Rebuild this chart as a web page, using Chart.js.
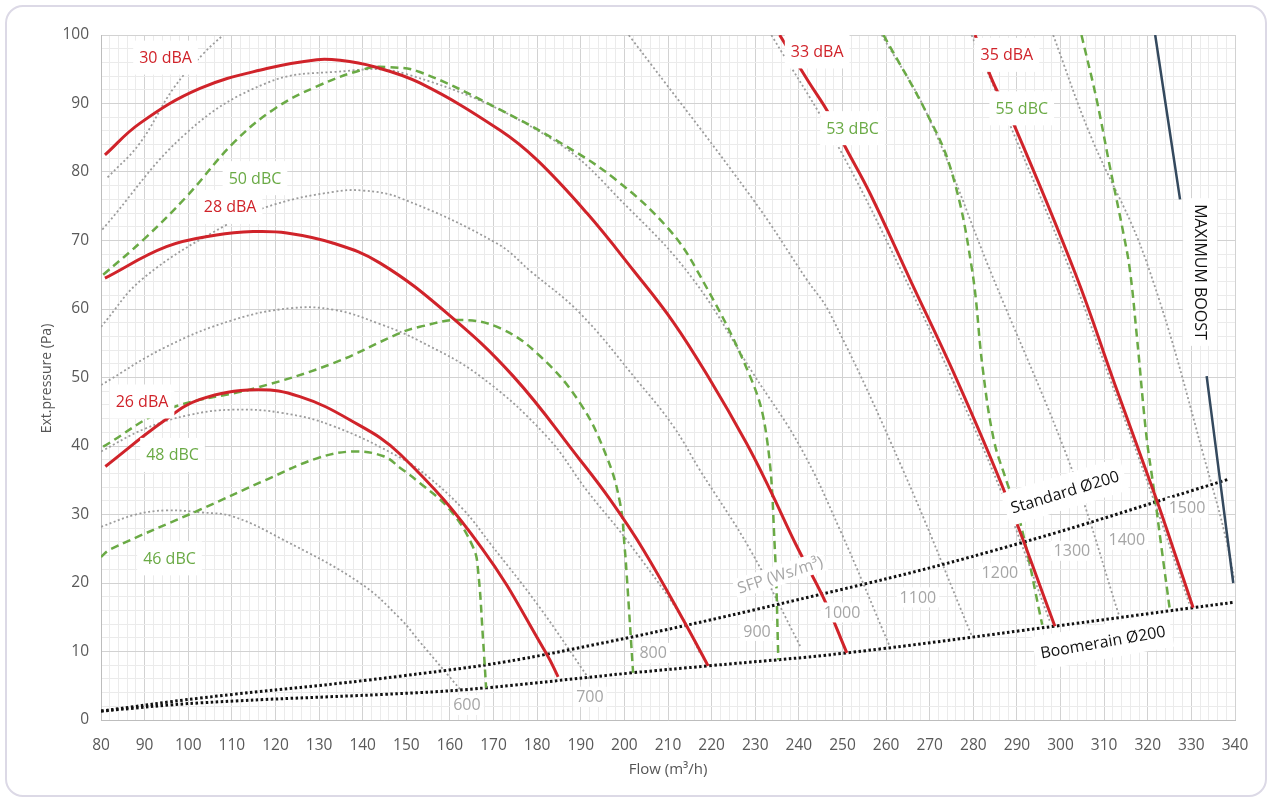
<!DOCTYPE html>
<html>
<head>
<meta charset="utf-8">
<script src="https://cdn.jsdelivr.net/npm/chart.js@4.4.0/dist/chart.umd.min.js"></script>
<style>
  html, body { margin: 0; padding: 0; background: #fff; }
  .card {
    position: absolute; left: 5px; top: 5px; width: 1262px; height: 792px;
    box-sizing: border-box; border: 2px solid #dcd9e6; border-radius: 18px;
  }
  #chart { position: absolute; left: 0; top: 0; }
</style>
</head>
<body>
<div class="card"></div>
<canvas id="chart" width="1272" height="800"></canvas>
<script>
// =================================================================
// Fan diagram - flow (m3/h) vs external pressure (Pa)
// =================================================================

const flowTicks = [80, 90, 100, 110, 120, 130, 140, 150, 160, 170, 180, 190, 200, 210, 220, 230, 240, 250, 260, 270, 280, 290, 300, 310, 320, 330, 340];
const pressureTicks = [0, 10, 20, 30, 40, 50, 60, 70, 80, 90, 100];

// sound level curves, dBA (solid red)
const dba26 = [[81, 37], [94.3, 43.6], [102.7, 46.8], [115.7, 48.2], [125.6, 47.2], [137.1, 43.8], [148.6, 38.8], [167.3, 25.1], [182.2, 9.6], [184.8, 6.3]];
const dba28 = [[80.9, 64.5], [95, 69.1], [106.5, 70.8], [114.9, 71.3], [122.6, 71.1], [133.3, 69.6], [144, 66.7], [159.3, 59.4], [174.5, 50.2], [189.8, 38], [196.7, 32.2], [204.3, 24.9], [214.3, 13.7], [219.2, 7.9]];
const dba30 = [[80.9, 82.5], [88.9, 87.1], [102.7, 92.2], [118, 95.1], [129.5, 96.4], [134.8, 96.3], [142.4, 95.4], [153.1, 93], [171.5, 86.1], [179.9, 81.8], [191.4, 74], [202, 65.7], [211.2, 58.1], [219.6, 49.7], [228, 40.4], [233.4, 33.6], [239.5, 25.4], [245.6, 17.9], [251, 9.8]];
const dba33 = [[235.6, 100], [242.2, 93.2], [246.8, 88.6], [250.2, 84.2], [256.3, 76.9], [265.5, 64.3], [276.2, 49.7], [287.3, 33.1], [298.7, 13.7]];
const dba35 = [[280.4, 100], [284.6, 93], [289.2, 87.1], [303.5, 65], [312.5, 48.9], [322, 32.2], [325.9, 24.9], [330.4, 16.4]];

// sound level curves, dBC (dashed green)
const dbc46 = [[80, 23.8], [82.1, 24.9], [102.7, 30.7], [118, 35.1], [129.5, 38.2], [137.9, 39.2], [144.8, 38.5], [148.6, 36.8], [153.1, 34.6], [160, 30.7], [165.4, 25.1], [166.5, 21.5], [167.6, 11.7], [168.3, 4.7]];
const dbc48 = [[80.5, 39.9], [95, 45.3], [115.7, 48.5], [133.3, 52.1], [148.6, 56.5], [153.1, 57.4], [162.3, 58.4], [171.5, 57.2], [180.7, 53.1], [189.8, 46.3], [195.9, 38.5], [199, 31.7], [200.1, 24.9], [200.5, 21.5], [202, 6.9]];
const dbc50 = [[80.5, 65], [89.7, 70.1], [99.6, 76.4], [110.3, 84.2], [119.5, 89.1], [129.5, 92.5], [140.9, 95.1], [146, 95.3], [153.1, 94.6], [171.5, 89.1], [186.8, 83.7], [198.2, 78.8], [209.7, 72], [216.6, 65.7], [228.8, 50.2], [232.6, 41.4], [234.5, 24.9], [235.3, 8.8]];
const dbc53 = [[259.4, 100], [269.3, 88.6], [274.9, 80.3], [279.6, 66.2], [282.2, 51.1], [284.7, 40.9], [287.5, 35.1], [290.7, 29], [295.8, 13.9]];
const dbc55 = [[304.8, 100], [308.3, 90.5], [311.3, 80.8], [314.4, 71.1], [315.9, 65.7], [317.5, 56], [319.7, 41.4], [321.3, 34.1], [323.2, 24.9], [325.1, 15.9]];

// SFP lines (Ws/m3), grey dotted
const sfp600 = [[80, 28.2], [88, 30], [95, 30.6], [103, 30.3], [110.3, 29.7], [121.8, 26.3], [139.4, 20], [148.6, 14.8], [153.1, 11.4], [162.7, 4.2]];
const sfp700 = [[80, 39.2], [90, 42.5], [100, 44.5], [110.3, 45.3], [121.8, 44.8], [133.3, 42.9], [148.6, 38.3], [155, 35.5], [163.1, 30.7], [169.2, 25.8], [180.5, 16.5], [192, 5.9]];
const sfp800 = [[80, 48.9], [95, 54.5], [110.3, 58.4], [123.3, 60.1], [133.3, 59.9], [144, 57.8], [153.1, 55.3], [166.9, 50.2], [182.2, 41.4], [191.4, 33.5], [200.5, 26.3], [213.5, 14.7], [217.5, 9.5]];
const sfp900 = [[80, 57.4], [89.7, 64.5], [108.8, 72.3], [120, 75.3], [133.3, 77.1], [140, 77.3], [148.6, 76.2], [170.7, 69.6], [178.7, 65.4], [189.8, 59.4], [203, 49.5], [211.2, 42.9], [217.3, 36.5], [228.8, 24.9], [240.3, 10.8]];
const sfp1000 = [[80.3, 71.6], [99.6, 85.7], [118, 93], [133.3, 94.6], [150, 94.3], [182.9, 85], [201.3, 74.5], [215.8, 64.3], [229.6, 50.5], [240.3, 39.9], [249.4, 27.8], [260.8, 10.8]];
const sfp1100a = [[81.5, 79.2], [88.9, 84.2], [96.6, 92.2], [103.5, 97.3], [108, 100]];
const sfp1100b = [[201, 100], [229.6, 75.9], [241.8, 64.3], [247.1, 59.4], [263.8, 36.6], [279.7, 12.2]];
const sfp1200 = [[233.7, 100], [248.6, 84.2], [263.8, 65.2], [275, 50], [286.3, 33.5], [297.5, 14.5]];
const sfp1300 = [[259, 100], [269.3, 88.6], [283.8, 65.7], [302.6, 36.6], [313.5, 15.1]];
const sfp1400 = [[279.6, 100], [288, 87.5], [302.3, 65.5], [311.5, 49.5], [321, 32.8], [329.5, 17]];
const sfp1500 = [[298.3, 100], [306.7, 85.6], [319.8, 66.7], [335, 33.6], [338.5, 24.9], [339.8, 20.5]];

// system curves, black dotted
const standard200 = [[80, 1.3], [102.7, 3.2], [148.6, 6.4], [182.2, 9.6], [249.4, 19], [290.6, 25.8], [338.3, 35.1]];
const boomerain200 = [[80, 1.3], [102.7, 2.5], [153.1, 4], [168.3, 4.7], [202, 6.9], [219.2, 7.9], [251, 9.8], [298.7, 13.7], [330.4, 16.4], [340, 17.2]];

// maximum boost limit (two visible pieces around its label)
const boostTop = [[321.7, 100], [327.4, 76]];
const boostBottom = [[333.5, 50.2], [339.6, 20]];

const RED = '#d0232a';
const GREEN = '#6aaa45';
const GREY = '#a6a6a6';
const DARK = '#34495e';

// text labels on the plot, anchored in data units
const notes = [
    { text: '30 dBA', x: 94.8, y: 96.7, color: RED },
    { text: '28 dBA', x: 109.6, y: 74.9, color: RED },
    { text: '26 dBA', x: 89.4, y: 46.5, color: RED },
    { text: '50 dBC', x: 115.3, y: 79.1, color: GREEN },
    { text: '48 dBC', x: 96.4, y: 38.7, color: GREEN },
    { text: '46 dBC', x: 95.7, y: 23.6, color: GREEN },
    { text: '33 dBA', x: 244.2, y: 97.6, color: RED },
    { text: '35 dBA', x: 287.7, y: 97.1, color: RED },
    { text: '53 dBC', x: 252.3, y: 86.4, color: GREEN },
    { text: '55 dBC', x: 291.1, y: 89.3, color: GREEN },
    { text: 'MAXIMUM BOOST', x: 332, y: 65.4, color: '#111', rot: 90 },
    { text: 'Standard Ø200', x: 301, y: 33.3, color: '#111', rot: -17 },
    { text: 'Boomerain Ø200', x: 309.7, y: 11.4, color: '#111', rot: -10 },
    { text: 'SFP (Ws/m³)', x: 235.7, y: 21.2, color: GREY, rot: -18, small: true },
    { text: '600', x: 163.9, y: 2.2, color: GREY, small: true },
    { text: '700', x: 192.1, y: 3.4, color: GREY, small: true },
    { text: '800', x: 206.6, y: 9.8, color: GREY, small: true },
    { text: '900', x: 230.4, y: 13, color: GREY, small: true },
    { text: '1000', x: 249.9, y: 15.7, color: GREY, small: true },
    { text: '1100', x: 267.3, y: 17.9, color: GREY, small: true },
    { text: '1200', x: 286.1, y: 21.5, color: GREY, small: true },
    { text: '1300', x: 302.6, y: 24.7, color: GREY, small: true },
    { text: '1400', x: 315.2, y: 26.3, color: GREY, small: true },
    { text: '1500', x: 329, y: 31, color: GREY, small: true }
];

const FONT = '"Open Sans", "Noto Sans", sans-serif';

function curve(pts, color, width, dash, order) {
    return {
        data: pts.map(p => ({ x: p[0], y: p[1] })),
        showLine: true,
        pointRadius: 0,
        borderColor: color,
        borderWidth: width,
        borderDash: dash,
        tension: 0.4,
        fill: false,
        order: order
    };
}

const datasets = [];
[dba26, dba28, dba30, dba33, dba35].forEach(c => datasets.push(curve(c, RED, 3, [], 1)));
[boostTop, boostBottom].forEach(c => datasets.push(curve(c, DARK, 2.5, [], 1)));
[dbc46, dbc48, dbc50, dbc53, dbc55].forEach(c => datasets.push(curve(c, GREEN, 2.5, [8, 5], 2)));
[standard200, boomerain200].forEach(c => datasets.push(curve(c, '#111', 3, [2.5, 2.5], 3)));
[sfp600, sfp700, sfp800, sfp900, sfp1000, sfp1100a, sfp1100b, sfp1200, sfp1300, sfp1400, sfp1500]
    .forEach(c => datasets.push(curve(c, '#9c9c9c', 1.8, [2, 2.5], 4)));

// labels with white boxes + axis titles
const overlayPlugin = {
    id: 'overlay',
    afterDatasetsDraw(chart) {
        const ctx = chart.ctx;
        const xs = chart.scales.x, ys = chart.scales.y;
        notes.forEach(n => {
            const size = 16;
            const padX = n.small ? 3 : 6, padY = n.small ? 2 : 9;
            ctx.save();
            ctx.translate(xs.getPixelForValue(n.x), ys.getPixelForValue(n.y));
            ctx.rotate((n.rot || 0) * Math.PI / 180);
            ctx.font = size + 'px ' + FONT;
            const w = ctx.measureText(n.text).width;
            ctx.fillStyle = '#fff';
            ctx.fillRect(-w / 2 - padX, -size / 2 - padY, w + 2 * padX, size + 2 * padY);
            ctx.fillStyle = n.color;
            ctx.textAlign = 'center';
            ctx.textBaseline = 'middle';
            ctx.fillText(n.text, 0, 1);
            ctx.restore();
        });
    },
    afterDraw(chart) {
        const ctx = chart.ctx;
        const area = chart.chartArea;
        ctx.save();
        ctx.fillStyle = '#555';
        ctx.textAlign = 'center';
        ctx.textBaseline = 'middle';
        ctx.font = '15px ' + FONT;
        ctx.fillText('Flow (m³/h)', (area.left + area.right) / 2, 770);
        ctx.translate(47, (area.top + area.bottom) / 2 + 1);
        ctx.rotate(-Math.PI / 2);
        ctx.font = '14px ' + FONT;
        ctx.fillText('Ext.pressure (Pa)', 0, 0);
        ctx.restore();
    }
};

const gridColor = c => (c.tick && c.tick.value % 10 === 0) ? '#d2d2d2' : '#ebebeb';

new Chart(document.getElementById('chart').getContext('2d'), {
    type: 'scatter',
    data: { datasets: datasets },
    options: {
        responsive: false,
        animation: false,
        devicePixelRatio: 1,
        layout: { padding: { top: 35, right: 37, left: 10, bottom: 20 } },
        plugins: { legend: { display: false }, tooltip: { enabled: false } },
        scales: {
            x: {
                type: 'linear',
                min: 80, max: 340,
                afterFit: s => { s.height = 60; },
                grid: { color: gridColor, drawTicks: false },
                border: { color: '#bdbdbd' },
                ticks: {
                    stepSize: 2, autoSkip: false, maxRotation: 0, maxTicksLimit: 1000,
                    padding: 16, color: '#595959', font: { family: FONT, size: 15.5 },
                    callback: v => flowTicks.includes(v) ? String(v) : ''
                }
            },
            y: {
                type: 'linear',
                min: 0, max: 100,
                afterFit: s => { s.width = 91; },
                grid: { color: gridColor, drawTicks: false },
                border: { color: '#bdbdbd' },
                ticks: {
                    stepSize: 2, autoSkip: false, maxTicksLimit: 1000,
                    padding: 12, color: '#595959', font: { family: FONT, size: 15.5 },
                    callback: v => pressureTicks.includes(v) ? String(v) : ''
                }
            }
        }
    },
    plugins: [overlayPlugin]
});
</script>
</body>
</html>
